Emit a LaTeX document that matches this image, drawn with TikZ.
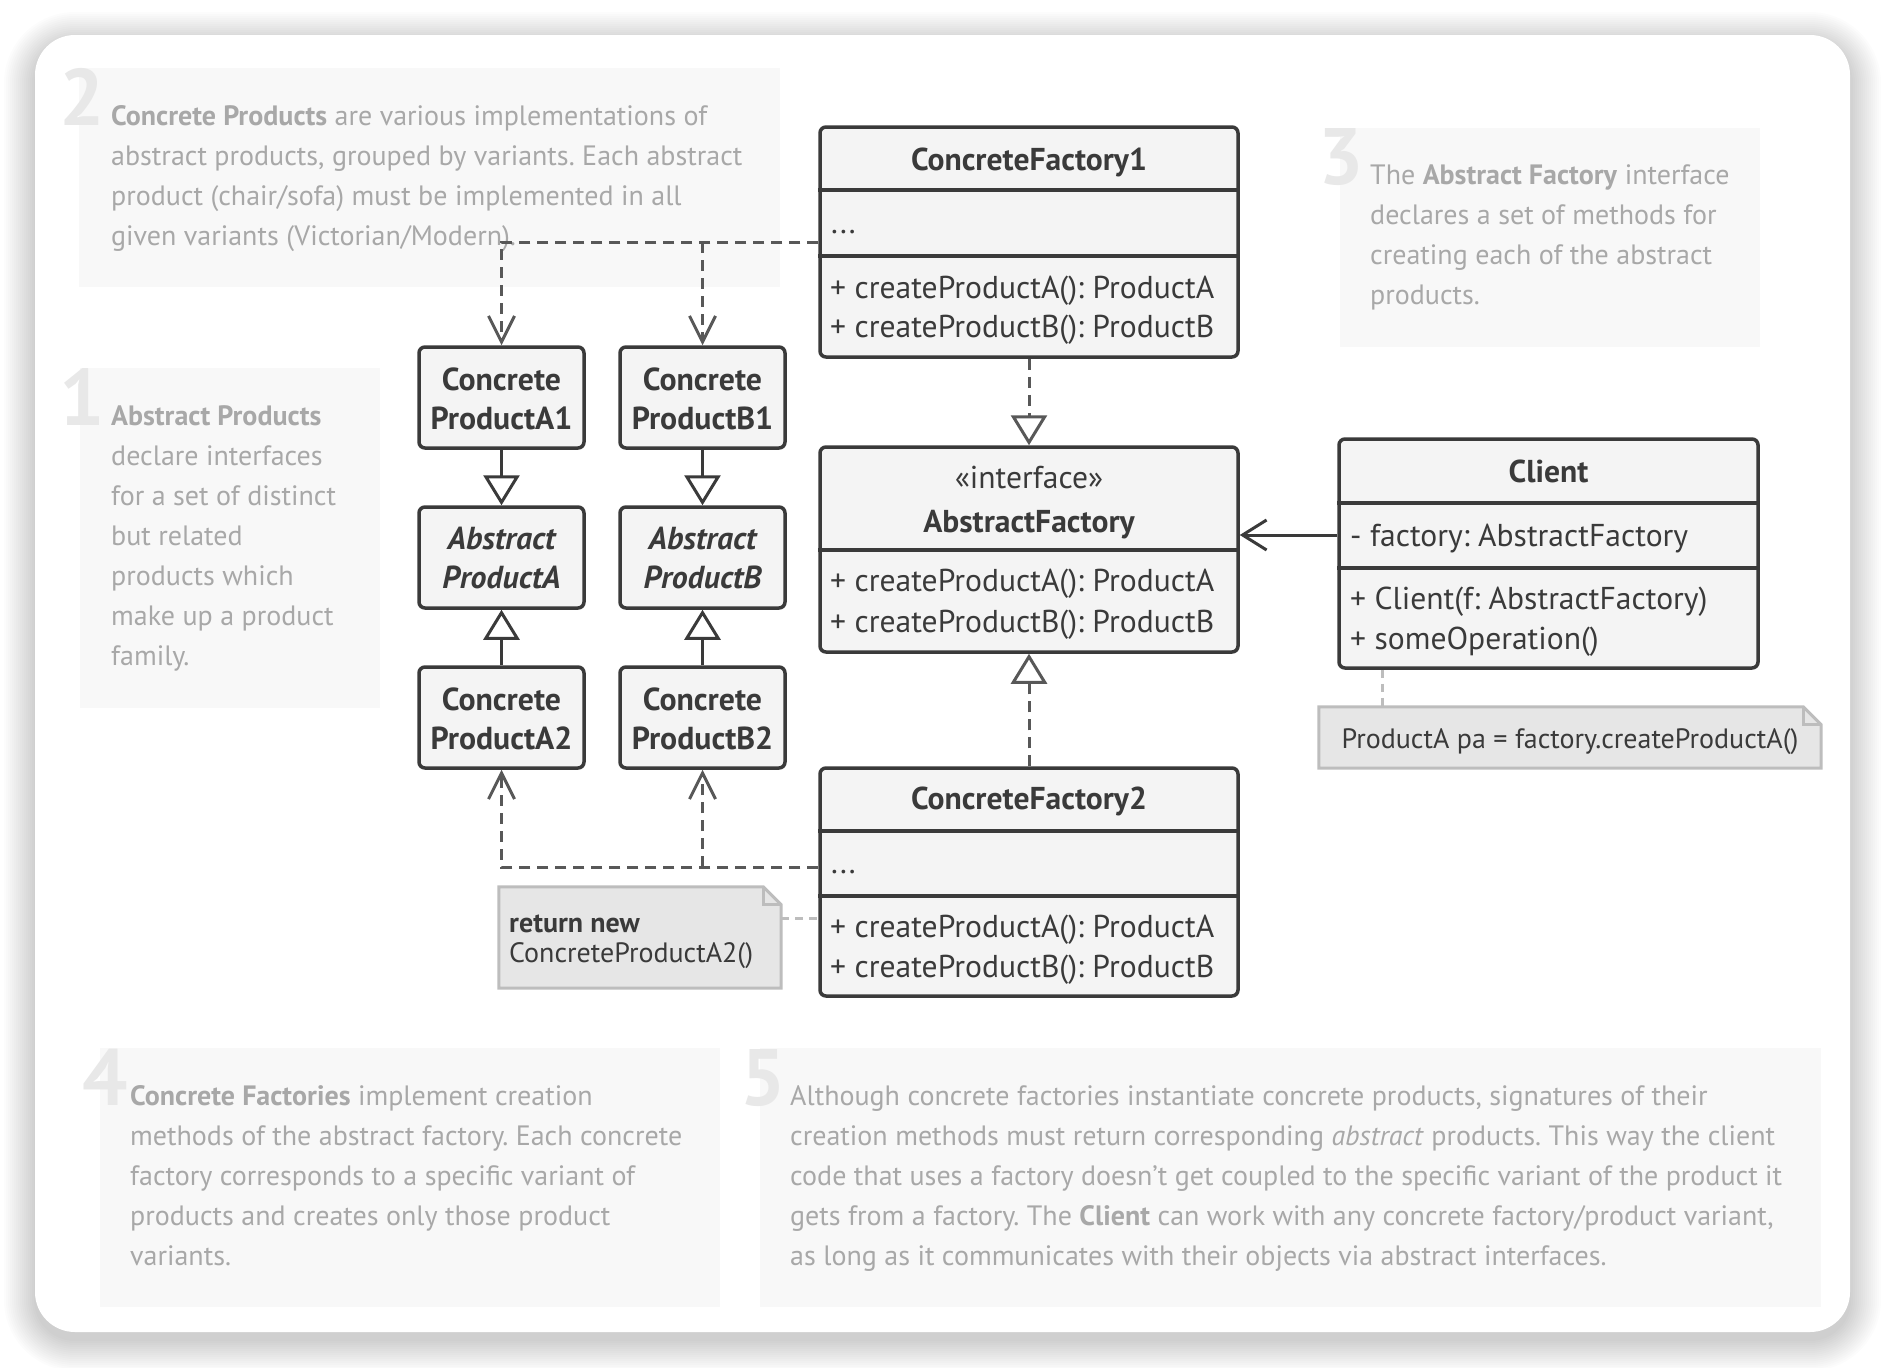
\documentclass[tikz,border=0pt]{standalone}
\usepackage{fontspec}
\setmainfont{PT Sans}
\usetikzlibrary{arrows.meta}
\frenchspacing
\definecolor{ink}{HTML}{3A3A3A}
\definecolor{boxfill}{HTML}{F4F4F4}
\definecolor{descbg}{HTML}{F8F8F8}
\definecolor{desctext}{HTML}{A8A8A8}
\definecolor{numcol}{HTML}{E8E8E8}
\definecolor{notefill}{HTML}{E6E6E6}
\definecolor{noteline}{HTML}{BDBDBD}
\definecolor{depcol}{HTML}{585858}
\tikzset{
  classbox/.style={draw=ink, fill=boxfill, line width=3.5pt, rounded corners=6pt, inner sep=0pt},
  sepline/.style={draw=ink, line width=3.5pt},
  ctitle/.style={font=\fontsize{31.6}{36}\selectfont\bfseries, text=ink, inner sep=0pt},
  cmember/.style={font=\fontsize{31.6}{36}\selectfont, text=ink, inner sep=0pt},
  prodtext/.style={font=\fontsize{31.8}{39}\selectfont\bfseries, text=ink, align=center, inner sep=0pt},
  descbox/.style={fill=descbg, draw=none},
  desc/.style={font=\fontsize{28}{40}\selectfont\frenchspacing, text=desctext, align=left, inner sep=0pt, anchor=north west},
  num/.style={font=\fontsize{80}{80}\selectfont\bfseries, text=numcol, inner sep=0pt, anchor=base east},
  inherit/.style={draw=ink, line width=3pt, -{Triangle[open, length=30pt, width=36pt]}},
  realize/.style={draw=depcol, line width=3pt, dash pattern=on 11pt off 7pt, -{Triangle[open, length=30pt, width=36pt]}},
  depend/.style={draw=depcol, line width=3pt, dash pattern=on 11pt off 7pt, -{Straight Barb[length=26pt, width=26pt]}},
  assoc/.style={draw=ink, line width=3pt, -{Straight Barb[length=24pt, width=30pt]}},
  notedraw/.style={draw=noteline, fill=notefill, line width=3pt, line join=miter},
  notelink/.style={draw=noteline, line width=3pt, dash pattern=on 8pt off 6pt},
  notetext/.style={font=\fontsize{28}{30}\selectfont, text=ink, inner sep=0pt},
  anchorbox/.style={draw=none, fill=none, inner sep=0pt}
}
\begin{document}
\begin{tikzpicture}[x=1pt, y=-1pt]
\useasboundingbox (0,0) rectangle (1888,1368);
\fill[white] (0,0) rectangle (1888,1368);
% card shadow
\foreach \i in {1,3,...,31} {
  \fill[black, opacity=0.010, rounded corners={40pt+\i pt}] ({35-\i},{43-\i}) rectangle ({1850+\i},{1340+\i});
}
\fill[white, rounded corners=40pt] (35,35) rectangle (1850,1332);

% description boxes
\fill[descbox] (79,68) rectangle (780,287);
\fill[descbox] (80,368) rectangle (380,708);
\fill[descbox] (1340,128) rectangle (1760,347);
\fill[descbox] (100,1048) rectangle (720,1307);
\fill[descbox] (760,1048) rectangle (1821,1307);

\node[num] (n2) at (105,125) {2};
\node[desc] (d2) at (111,103) {\rule{0pt}{22pt}\textbf{Concrete Products} are various implementations of\\abstract products, grouped by variants. Each abstract\\product (chair/sofa) must be implemented in all\\given variants (Victorian/Modern).};

\node[num] (n1) at (105,425) {1};
\node[desc] (d1) at (111,403) {\rule{0pt}{22pt}\textbf{Abstract Products}\\declare interfaces\\for a set of distinct\\but related\\products which\\make up a product\\family.};

\node[num] (n3) at (1364,184) {3};
\node[desc] (d3) at (1370,162) {\rule{0pt}{22pt}The \textbf{Abstract Factory} interface\\declares a set of methods for\\creating each of the abstract\\products.};

\node[num] (n4) at (128,1105) {4};
\node[desc] (d4) at (130,1083) {\rule{0pt}{22pt}\textbf{Concrete Factories} implement creation\\methods of the abstract factory. Each concrete\\factory corresponds to a specific variant of\\products and creates only those product\\variants.};

\node[num] (n5) at (786,1105) {5};
\node[desc] (d5) at (790,1083) {\rule{0pt}{22pt}Although concrete factories instantiate concrete products, signatures of their\\creation methods must return corresponding \textit{abstract} products. This way the client\\code that uses a factory doesn’t get coupled to the specific variant of the product it\\gets from a factory. The \textbf{Client} can work with any concrete factory/product variant,\\as long as it communicates with their objects via abstract interfaces.};

% class boxes
\node[classbox, minimum width=418pt, minimum height=230pt] (cf1) at (1029,242) {};
\draw[sepline] (cf1.west |- 0,190) -- (cf1.east |- 0,190);
\draw[sepline] (cf1.west |- 0,256) -- (cf1.east |- 0,256);
\node[ctitle, anchor=base] (cf1t) at (1029,170) {ConcreteFactory1};
\node[cmember, anchor=base west] (cf1a) at (831,233) {...};
\node[cmember, anchor=base west] (cf1m1) at (830,298) {+ createProductA(): ProductA};
\node[cmember, anchor=base west] (cf1m2) at (830,337) {+ createProductB(): ProductB};

\node[classbox, minimum width=418pt, minimum height=205pt] (af) at (1029,549.5) {};
\draw[sepline] (af.west |- 0,550) -- (af.east |- 0,550);
\node[cmember, anchor=base] (afs) at (1029,488) {«interface»};
\node[ctitle, anchor=base] (aft) at (1029,532) {AbstractFactory};
\node[cmember, anchor=base west] (afm1) at (830,591) {+ createProductA(): ProductA};
\node[cmember, anchor=base west] (afm2) at (830,632) {+ createProductB(): ProductB};

\node[classbox, minimum width=418pt, minimum height=228pt] (cf2) at (1029,882) {};
\draw[sepline] (cf2.west |- 0,831) -- (cf2.east |- 0,831);
\draw[sepline] (cf2.west |- 0,896) -- (cf2.east |- 0,896);
\node[ctitle, anchor=base] (cf2t) at (1029,809) {ConcreteFactory2};
\node[cmember, anchor=base west] (cf2a) at (831,873) {...};
\node[cmember, anchor=base west] (cf2m1) at (830,937) {+ createProductA(): ProductA};
\node[cmember, anchor=base west] (cf2m2) at (830,977) {+ createProductB(): ProductB};

\node[classbox, minimum width=419pt, minimum height=229pt] (client) at (1548.5,553.5) {};
\draw[sepline] (client.west |- 0,503) -- (client.east |- 0,503);
\draw[sepline] (client.west |- 0,568) -- (client.east |- 0,568);
\node[ctitle, anchor=base] (clt) at (1548.5,482) {Client};
\node[cmember, anchor=base west] (cla) at (1350,546) {- factory: AbstractFactory};
\node[cmember, anchor=base west] (clm1) at (1350,609) {+ Client(f: AbstractFactory)};
\node[cmember, anchor=base west] (clm2) at (1350,649) {+ someOperation()};

% product boxes
\node[classbox, minimum width=165pt, minimum height=101pt] (a1) at (501.5,397.5) {};
\node[prodtext] (a1t) at (501.5,398.5) {Concrete\\ProductA1};
\node[classbox, minimum width=165pt, minimum height=101pt] (b1) at (702.5,397.5) {};
\node[prodtext] (b1t) at (702.5,398.5) {Concrete\\ProductB1};
\node[classbox, minimum width=165pt, minimum height=101pt] (pa) at (501.5,557.5) {};
\node[prodtext, font=\fontsize{31.8}{39}\selectfont\bfseries\itshape] (pat) at (501.5,558.5) {Abstract\\ProductA};
\node[classbox, minimum width=165pt, minimum height=101pt] (pb) at (702.5,557.5) {};
\node[prodtext, font=\fontsize{31.8}{39}\selectfont\bfseries\itshape] (pbt) at (702.5,558.5) {Abstract\\ProductB};
\node[classbox, minimum width=165pt, minimum height=101pt] (a2) at (501.5,717.5) {};
\node[prodtext] (a2t) at (501.5,718.5) {Concrete\\ProductA2};
\node[classbox, minimum width=165pt, minimum height=101pt] (b2) at (702.5,717.5) {};
\node[prodtext] (b2t) at (702.5,718.5) {Concrete\\ProductB2};

% connectors
\draw[inherit] (a1) -- (pa);
\draw[inherit] (a2) -- (pa);
\draw[inherit] (b1) -- (pb);
\draw[inherit] (b2) -- (pb);
\draw[realize] (cf1) -- (af);
\draw[realize] (cf2) -- (af);
\draw[assoc] (client.west |- 0,535) -- (af.east |- 0,535);
\draw[depend] (cf1.west) -| (a1);
\draw[depend] (b1 |- cf1.west) -- (b1);
\draw[depend] (cf2.west |- 0,867) -| (a2);
\draw[depend] (b2 |- 0,867) -- (b2);

% notes
\node[anchorbox, minimum width=282pt, minimum height=101pt] (note1) at (640,937.5) {};
\draw[notedraw] (note1.north west) -- ([xshift=-18pt]note1.north east) -- ([yshift=-18pt]note1.north east) -- (note1.south east) -- (note1.south west) -- cycle;
\draw[draw=noteline, line width=3pt] ([xshift=-18pt]note1.north east) -- ([xshift=-18pt,yshift=-18pt]note1.north east) -- ([yshift=-18pt]note1.north east);
\node[notetext, anchor=base west] (note1a) at (509,932) {\textbf{return new}};
\node[notetext, anchor=base west] (note1b) at (509,962) {ConcreteProductA2()};
\draw[notelink] (note1.east |- 0,918) -- (cf2.west |- 0,918);

\node[anchorbox, minimum width=502pt, minimum height=61pt] (note2) at (1570,737.5) {};
\draw[notedraw] (note2.north west) -- ([xshift=-18pt]note2.north east) -- ([yshift=-18pt]note2.north east) -- (note2.south east) -- (note2.south west) -- cycle;
\draw[draw=noteline, line width=3pt] ([xshift=-18pt]note2.north east) -- ([xshift=-18pt,yshift=-18pt]note2.north east) -- ([yshift=-18pt]note2.north east);
\node[notetext, anchor=base] (note2a) at (1570,748) {ProductA pa = factory.createProductA()};
\draw[notelink] (client.south -| 1382,0) -- (note2.north -| 1382,0);
\end{tikzpicture}
\end{document}
